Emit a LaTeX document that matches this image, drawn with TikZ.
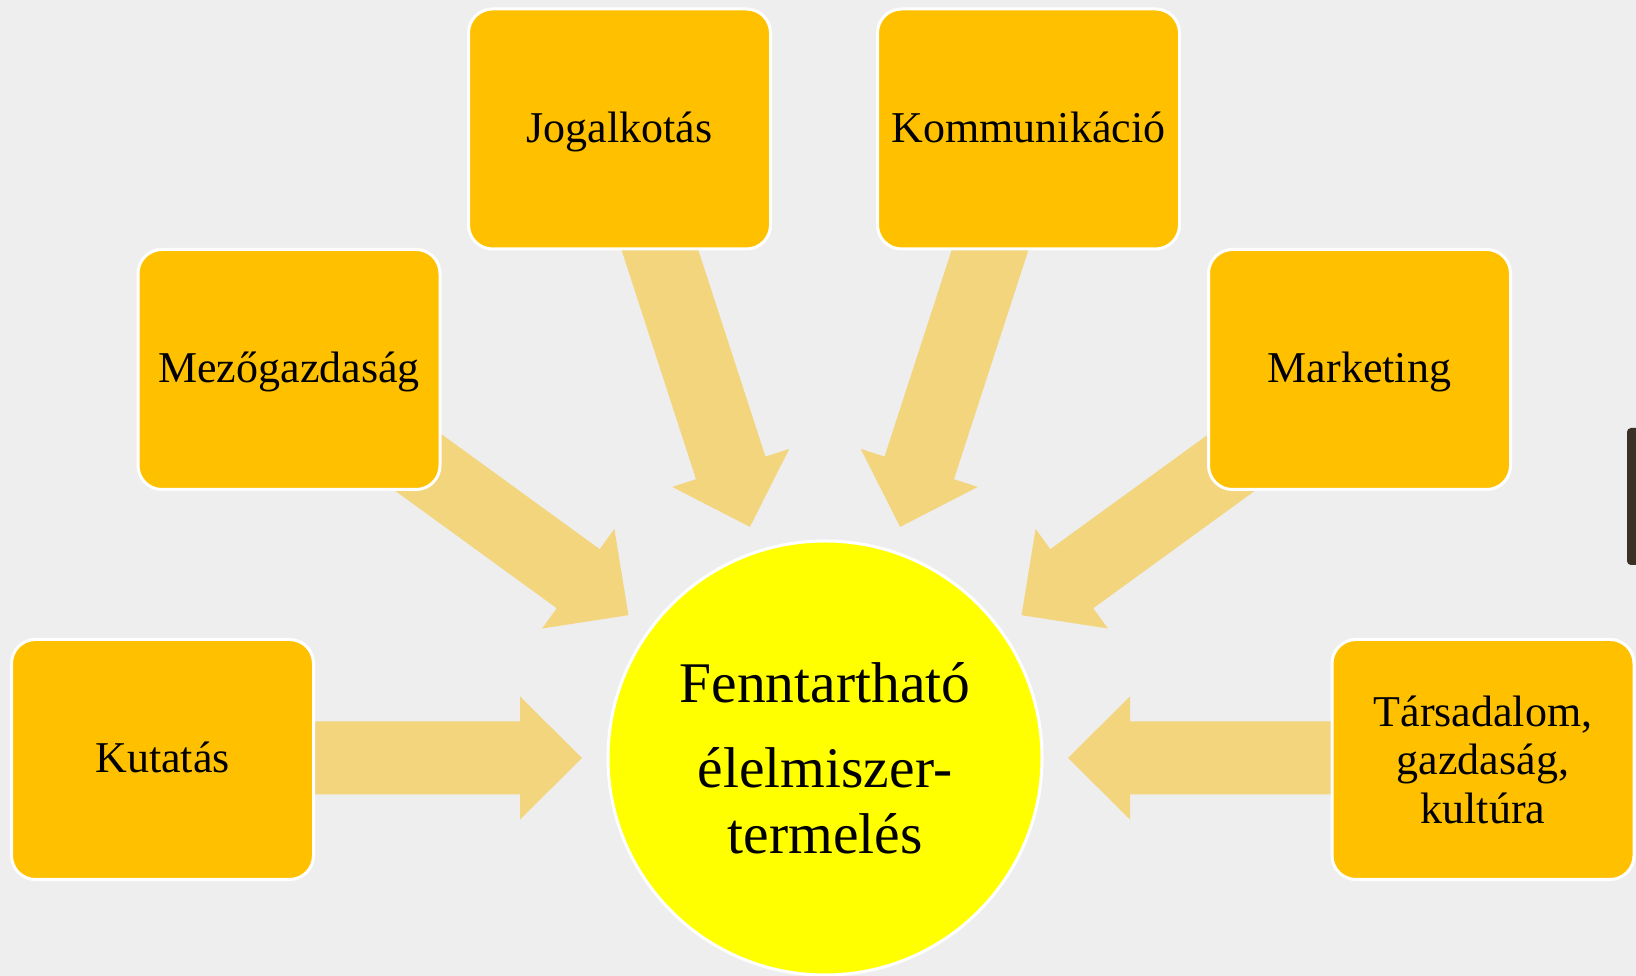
\documentclass[tikz,border=0pt]{standalone}
\usepackage{fontspec}
\setmainfont{Liberation Serif}
\definecolor{bg}{RGB}{238,238,238}
\definecolor{boxc}{RGB}{255,192,0}
\definecolor{arrc}{RGB}{242,213,124}
\definecolor{sun}{RGB}{255,255,0}
\definecolor{barc}{RGB}{58,48,38}
\begin{document}
\begin{tikzpicture}[x=1pt,y=1pt,
  topic/.style={draw=white, line width=3pt, fill=boxc, rounded corners=24pt,
    minimum width=302pt, minimum height=240pt, align=center,
    font=\fontsize{44}{48.5}\selectfont, inner sep=0pt},
  oneline/.style={text height=27pt, text depth=0pt},
  hub/.style={circle, draw=white, line width=3pt, fill=sun, minimum size=434pt,
    align=center, font=\fontsize{57.5}{66}\selectfont, inner sep=0pt},
  blockarrow/.style={fill=arrc}]
\useasboundingbox (0,0) rectangle (1636,976);
\fill[bg] (0,0) rectangle (1636,976);
\coordinate (c) at (825,218);
% block arrows (drawn behind the boxes)
\foreach \a in {0,36,...,180}
  \fill[blockarrow, shift={(c)}, rotate=\a]
    (243,0) -- (305,61.5) -- (305,36.5) -- (560,36.5) -- (560,-36.5)
    -- (305,-36.5) -- (305,-61.5) -- cycle;
% topics
\node[topic, oneline] (kut) at (162.5,216.5) {Kutatás};
\node[topic, oneline] (mez) at (289,606.5) {Mezőgazdaság};
\node[topic, oneline] (jog) at (619.5,847) {Jogalkotás};
\node[topic, oneline] (kom) at (1028.5,847) {Kommunikáció};
\node[topic, oneline] (mar) at (1359.5,606.5) {Marketing};
\node[topic] (tar) at (1483,216.5) {Társadalom,\\ gazdaság,\\ kultúra};
% hub
\node[hub] (hub) at (c) {Fenntartható\\[19pt] élelmiszer-\\ termelés};
% scroll bar at right edge
\fill[barc, rounded corners=4pt] (1627,411) rectangle (1646,548);
\end{tikzpicture}
\end{document}
